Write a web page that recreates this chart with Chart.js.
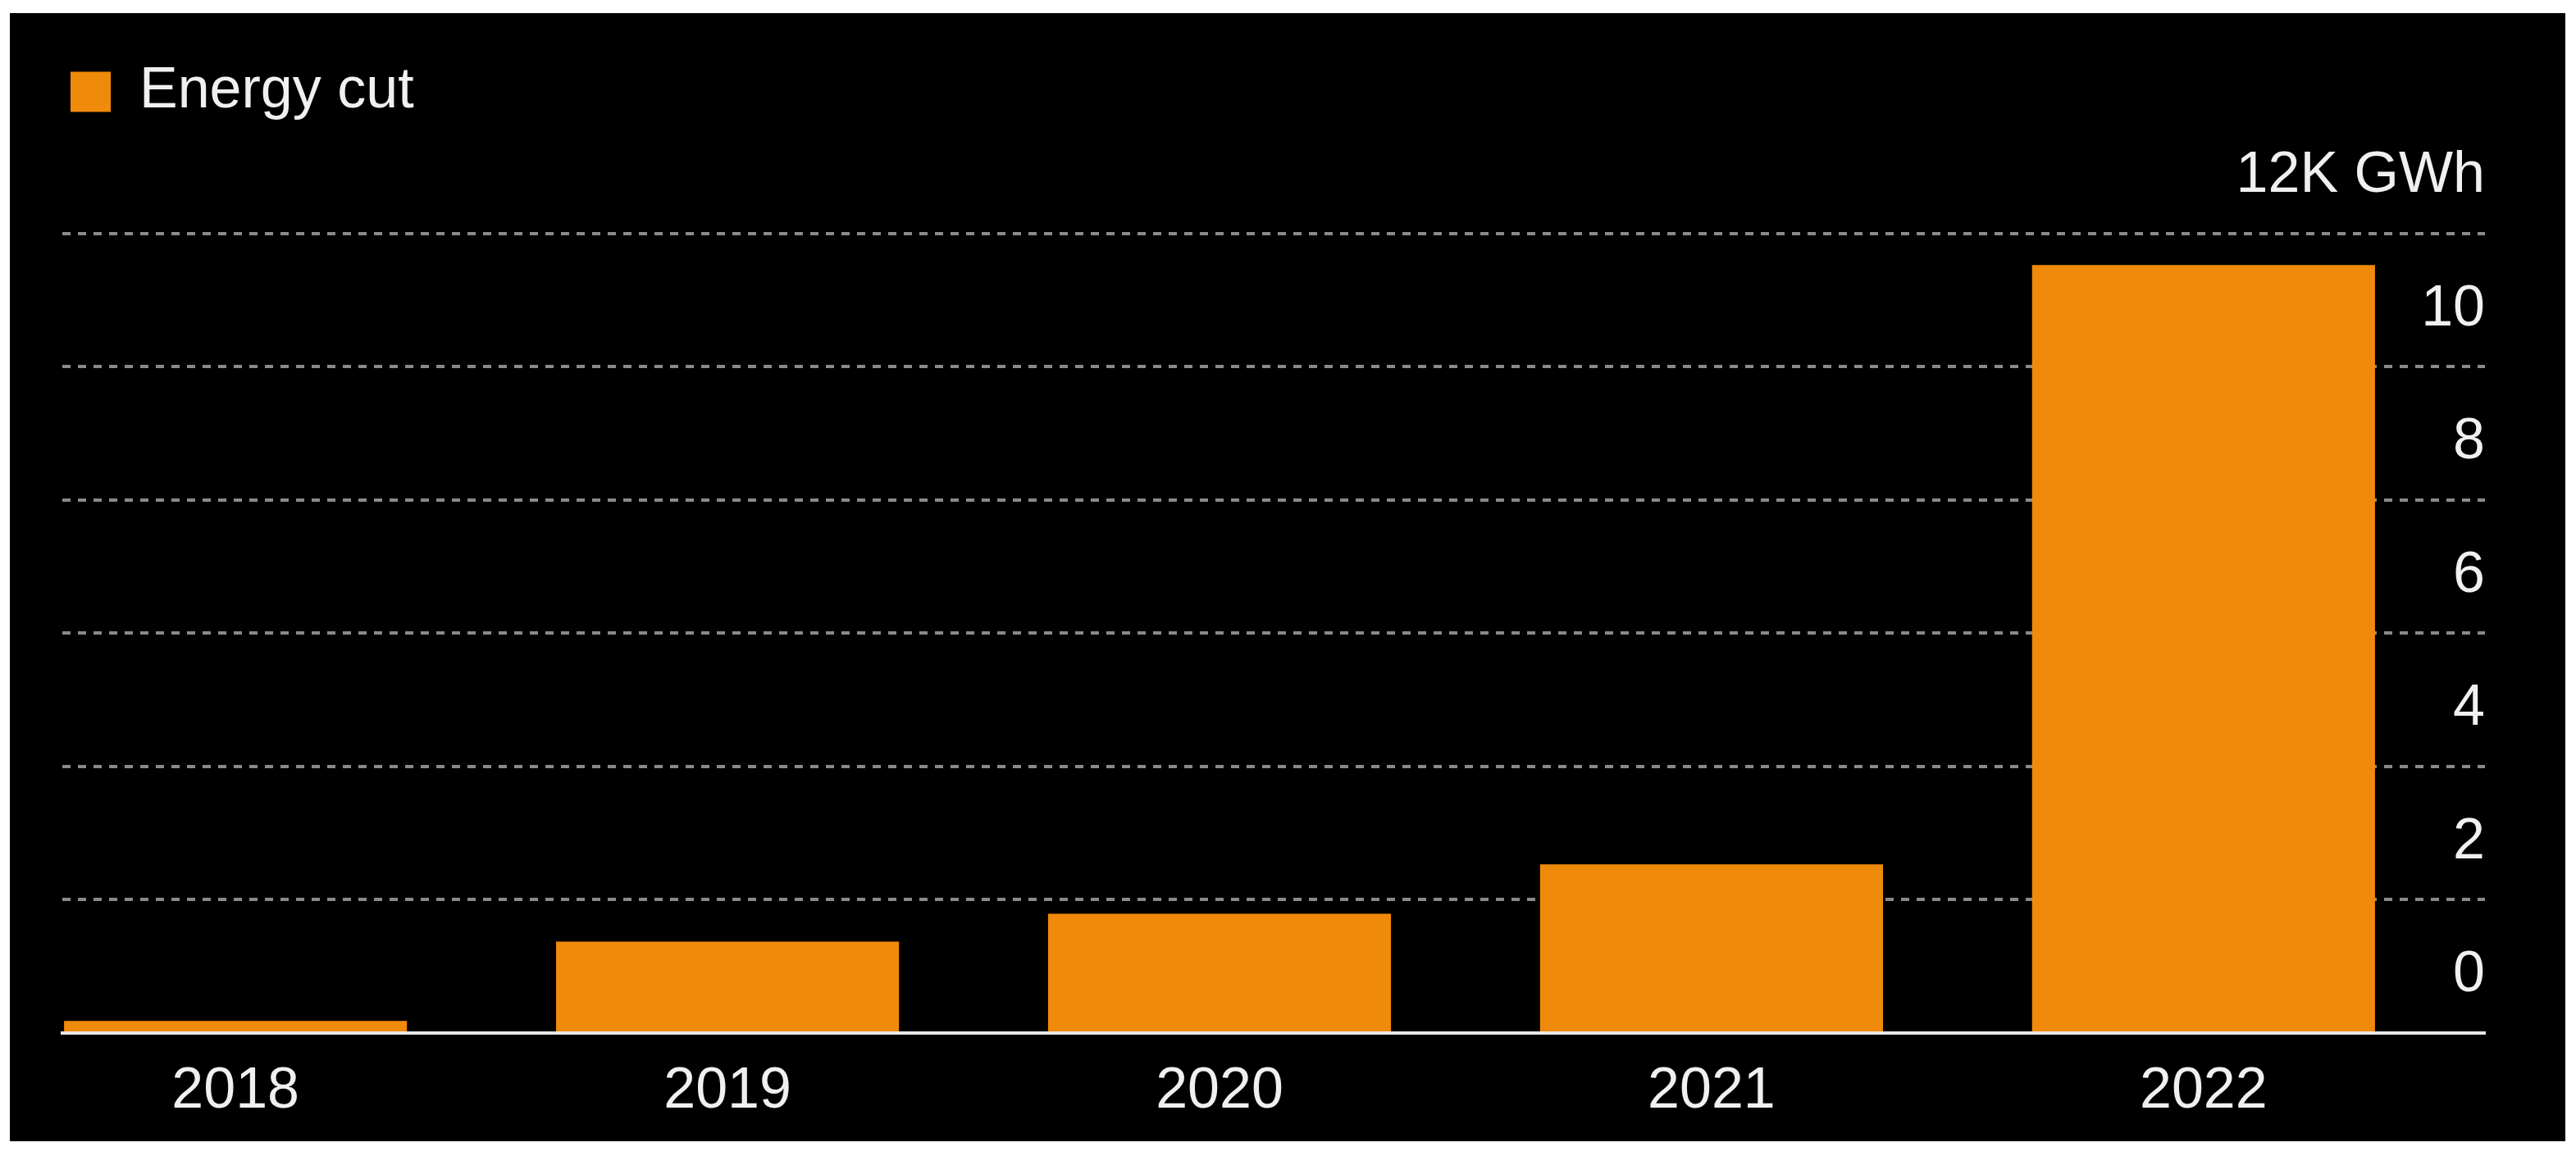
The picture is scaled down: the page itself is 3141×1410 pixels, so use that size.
<!DOCTYPE html>
<html>
<head>
<meta charset="utf-8">
<title>Energy cut</title>
<script src="https://cdn.jsdelivr.net/npm/chart.js@4/dist/chart.umd.min.js"></script>
<style>
  html, body { margin: 0; padding: 0; background: #ffffff; }
  #frame {
    position: absolute;
    left: 12px; top: 16px;
    width: 3116px; height: 1376px;
    background: #000000;
    overflow: hidden;
  }
  #inner { position: relative; width: 3116px; height: 1388px; }
</style>
</head>
<body>
<div id="frame"><div id="inner"><canvas id="myChart"></canvas></div></div>
<script>
// Chart data
const years = [2018, 2019, 2020, 2021, 2022];
const energyCut = [0.18, 1.37, 1.79, 2.53, 11.53]; // thousand GWh
const yTicks = [0, 2, 4, 6, 8, 10, 12];
const topTickLabel = '12K GWh';

const orange = '#F08A0B';
const textColor = '#f0f0f0';

Chart.defaults.font.family = '"Liberation Sans", Arial, sans-serif';

// push the plot area down below the legend
const legendSpacer = {
    id: 'legendSpacer',
    beforeInit(chart) {
        const origFit = chart.legend.fit;
        chart.legend.fit = function () {
            origFit.call(this);
            this.height += 128;
        };
    }
};

const ctx = document.getElementById('myChart').getContext('2d');
const myChart = new Chart(ctx, {
    type: 'bar',
    data: {
        datasets: [{
            label: 'Energy cut',
            data: years.map((y, i) => ({ x: y, y: energyCut[i] })),
            backgroundColor: orange,
            borderWidth: 0,
            categoryPercentage: 1,
            barPercentage: 0.697
        }]
    },
    options: {
        responsive: true,
        maintainAspectRatio: false,
        animation: false,
        layout: { padding: { left: 64, right: 98, top: 51, bottom: 0 } },
        plugins: {
            legend: {
                position: 'top',
                align: 'start',
                labels: {
                    boxWidth: 49,
                    boxHeight: 49,
                    padding: 10,
                    color: textColor,
                    font: { size: 70 }
                }
            },
            tooltip: { enabled: false }
        },
        scales: {
            x: {
                type: 'linear',
                offset: false,
                min: 2017.648,
                max: 2022.572,
                afterBuildTicks: scale => { scale.ticks = years.map(v => ({ value: v })); },
                grid: { display: false, drawTicks: false },
                border: { display: true, color: '#e8e8e8', width: 4 },
                ticks: {
                    color: textColor,
                    font: { size: 70, lineHeight: 0.83 },
                    padding: 43,
                    callback: v => String(v)
                }
            },
            y: {
                position: 'right',
                min: 0,
                max: 12,
                afterBuildTicks: scale => { scale.ticks = yTicks.map(v => ({ value: v })); },
                grid: {
                    color: c => (c.tick && c.tick.value === 0) ? 'rgba(0,0,0,0)' : '#8a8a8a',
                    lineWidth: 4,
                    drawTicks: false
                },
                border: { display: false, dash: [10, 9] },
                ticks: {
                    mirror: true,
                    padding: 0,
                    labelOffset: -70,
                    color: textColor,
                    font: { size: 70 },
                    callback: v => v === 12 ? topTickLabel : v
                }
            }
        }
    },
    plugins: [legendSpacer]
});
</script>
</body>
</html>
